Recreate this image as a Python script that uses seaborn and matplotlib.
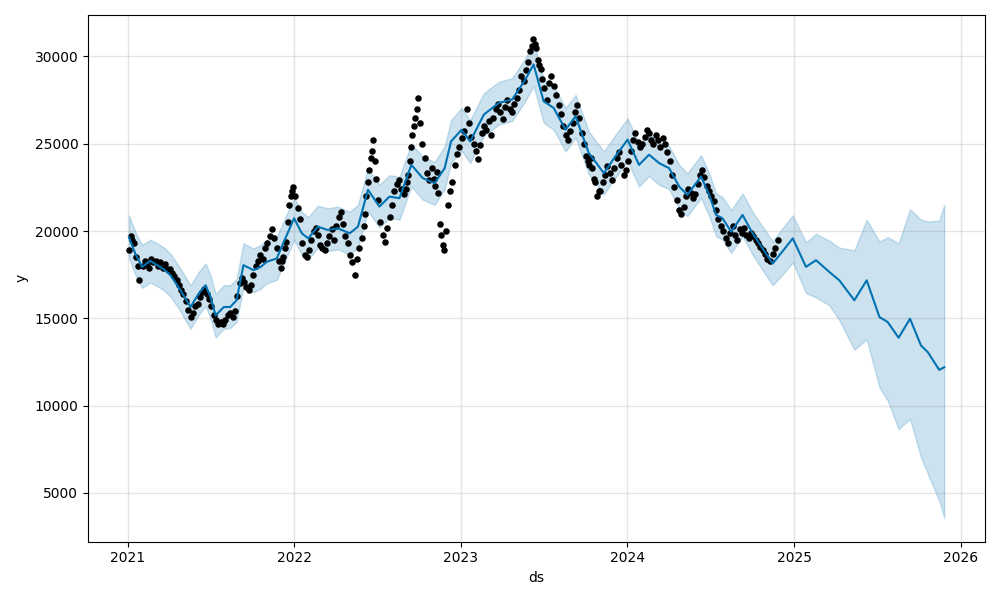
import numpy as np
import pandas as pd
import matplotlib
matplotlib.use("Agg")
import matplotlib.pyplot as plt
import seaborn as sns

# ---------------- observed data (readings per month) ----------------
obs_2021 = [
    [18900, 19700, 19500, 19300, 18500, 18000, 17200],
    [18000, 18300, 18100, 17900, 18400, 18200],
    [18300, 18000, 18200, 17900, 18100, 17800],
    [17800, 17600, 17400, 17200, 16900, 16600],
    [16400, 16000, 15500, 15100, 15300, 15700],
    [15800, 16200, 16500, 16700, 16400, 16100],
    [15700, 15200, 14900, 14700, 14800, 14700],
    [14900, 15200, 15300, 15100, 15400, 16300],
    [17000, 17300, 17100, 16800, 16600, 16900],
    [17500, 18000, 18300, 18600, 18400, 19000],
    [19300, 19700, 20100, 19600, 19000, 18300],
    [17900, 18300, 18500, 19000, 19400, 20500, 21500, 22000, 22300, 22500],
]
obs_2022 = [
    [22000, 21300, 20700, 19300, 18600, 18500],
    [18900, 19500, 20000, 20200, 19800, 19200],
    [19000, 18900, 19300, 19700, 20100, 19500],
    [20300, 20800, 21100, 20400, 19700, 19300],
    [18600, 18200, 17500, 18400, 19000, 19600],
    [20300, 21000, 22000, 22800, 23500, 24200, 24600, 25200, 24000, 23000],
    [21800, 20500, 19800, 19400, 20200, 20800],
    [21500, 22300, 22700, 22900, 22400, 22100],
    [22400, 22800, 23200, 24000, 24800, 25500, 26000, 26500, 27000, 27600],
    [26200, 25000, 24200, 23300, 22900, 23600],
    [23000, 22600, 23400, 22200, 20400, 19800, 19200, 18900, 20000],
    [21500, 22300, 22800, 23800, 24400, 24800],
]
obs_2023 = [
    [25300, 25700, 27000, 26200, 25400, 25000],
    [24600, 24100, 24900, 25600, 26000, 25800],
    [26300, 25500, 26500, 27000, 27300, 26800],
    [26400, 27100, 27500, 27000, 26800, 27300],
    [27600, 28100, 28900, 28600, 29200, 29700],
    [30300, 30600, 31000, 30700, 30500, 29800, 29500, 29300, 28700],
    [28200, 27500, 28500, 28900, 28300, 27800],
    [27200, 26700, 26000, 25500, 25200, 25700],
    [26200, 26800, 27200, 26500, 25600, 25000],
    [24300, 24000, 23800, 24200, 23600, 23000, 22800, 22000, 22300],
    [22300, 22800, 23200, 23700, 23300, 22900],
    [23600, 24200, 24500, 23800, 23200, 23500],
]
obs_2024 = [
    [24000, 24600, 25200, 25600, 25100, 24800],
    [25000, 25400, 25800, 25600, 25200, 25000],
    [25500, 25200, 24800, 25300, 25000, 24500],
    [24000, 23200, 22500, 21800, 21200, 21000],
    [21400, 22000, 22400, 22200, 21900, 22100],
    [22700, 23200, 23500, 23100, 22600, 22300],
    [22000, 21700, 21200, 20700, 20300, 20000],
    [19600, 19300, 19900, 20300, 19800, 19500],
    [20100, 19900, 20200, 19800, 19600, 19900],
    [19700, 19500, 19300, 19100, 18900, 18700],
    [18400, 18300, 18700, 19000, 19500],
]
obs_years = [2021, 2022, 2023, 2024]

# ---------------- forecast (yhat with uncertainty interval) ----------------
fc_dates = [
    "2021-01-04", "2021-01-18", "2021-02-02", "2021-02-20", "2021-03-07", "2021-03-22",
    "2021-04-05", "2021-04-27", "2021-05-19", "2021-06-06", "2021-06-21", "2021-07-02",
    "2021-07-13", "2021-07-31", "2021-08-14", "2021-08-28", "2021-09-12", "2021-10-04",
    "2021-10-20", "2021-11-02", "2021-11-24", "2021-12-08", "2022-01-01", "2022-01-18",
    "2022-02-01", "2022-02-22", "2022-03-16", "2022-04-07", "2022-05-03", "2022-05-21",
    "2022-06-12", "2022-07-07", "2022-07-29", "2022-08-20", "2022-09-15", "2022-10-10",
    "2022-11-05", "2022-11-27", "2022-12-11", "2023-01-03", "2023-01-22", "2023-02-21",
    "2023-03-26", "2023-04-24", "2023-05-23", "2023-06-10", "2023-07-02", "2023-07-24",
    "2023-08-19", "2023-09-10", "2023-10-09", "2023-11-11", "2023-12-06", "2024-01-02",
    "2024-01-27", "2024-02-18", "2024-03-11", "2024-04-02", "2024-04-24", "2024-05-12",
    "2024-06-11", "2024-06-29", "2024-07-14", "2024-07-28", "2024-08-16", "2024-09-10",
    "2024-10-02", "2024-10-24", "2024-11-15", "2024-12-03", "2024-12-29", "2025-01-27",
    "2025-02-18", "2025-03-19", "2025-04-10", "2025-05-13", "2025-06-09", "2025-07-07",
    "2025-07-25", "2025-08-18", "2025-09-12", "2025-10-06", "2025-10-21", "2025-11-15",
    "2025-11-26",
]
fc_yhat = [
    19650, 18700, 17950, 18290, 18050, 17800, 17470, 16610, 15650, 16420, 16900, 16225,
    15170, 15650, 15650, 16035, 18046, 17760, 17950, 18236, 18430, 19290, 20730, 19870,
    19580, 20250, 20060, 20155, 19870, 20250, 22360, 21400, 21970, 21880, 23790, 23030,
    22740, 23600, 25130, 25800, 25130, 26670, 27340, 27530, 28680, 29540, 27430, 27050,
    25800, 26570, 24465, 23315, 24270, 25230, 23790, 24370, 23890, 23600, 22550, 22070,
    23120, 22070, 20920, 20730, 19960, 20920, 19870, 19000, 18140, 18720, 19580, 17950,
    18330, 17660, 17180, 16035, 17180, 15075, 14790, 13890, 14980, 13450, 13065, 12050,
    12200,
]
fc_lower = [
    18450, 17500, 16750, 17050, 16850, 16600, 16250, 15400, 14400, 15200, 15700, 15000,
    13900, 14400, 14450, 14800, 16800, 16500, 16700, 17000, 17200, 18050, 19500, 18650,
    18350, 19050, 18850, 18950, 18650, 19050, 21150, 20200, 20750, 20650, 22550, 21800,
    21500, 22400, 23900, 24600, 23900, 25450, 26100, 26300, 27450, 28300, 26200, 25800,
    24550, 25350, 23250, 22100, 23050, 24000, 22550, 23150, 22650, 22400, 21300, 20850,
    21900, 20850, 19700, 19500, 18750, 19700, 18650, 17750, 16900, 17400, 18200, 16450,
    16200, 15750, 14900, 13200, 13800, 11050, 10300, 8650, 9250, 7050, 6100, 4550,
    3580,
]
fc_upper = [
    20900, 19950, 19200, 19500, 19300, 19050, 18700, 17850, 16900, 17650, 18150, 17450,
    16400, 16900, 16900, 17250, 19300, 19000, 19200, 19500, 19650, 20500, 21900, 21100,
    20800, 21450, 21300, 21400, 21100, 21500, 23600, 22650, 23200, 23100, 25000, 24250,
    23950, 24850, 26350, 27050, 26350, 27900, 28550, 28750, 29900, 30800, 28650, 28300,
    27050, 27800, 25700, 24550, 25500, 26450, 25000, 25600, 25100, 24850, 23800, 23300,
    24350, 23300, 22150, 21950, 21200, 22150, 21100, 20250, 19400, 20050, 20900, 19350,
    19850, 19450, 19050, 18900, 20650, 19400, 19650, 19300, 21250, 20650, 20550, 20600,
    21500,
]

# ---------------- build frames ----------------
obs_rows = []
for year, months in zip(obs_years, [obs_2021, obs_2022, obs_2023, obs_2024]):
    for m, vals in enumerate(months, start=1):
        start = pd.Timestamp(year=year, month=m, day=1)
        ndays = start.days_in_month
        n = len(vals)
        for i, v in enumerate(vals):
            d = start + pd.Timedelta(days=(i + 0.5) * ndays / n)
            if year == 2021 and m == 1:
                d = start + pd.Timedelta(days=3 + i * 27 / n)
            if year == 2024 and m == 11:
                d = start + pd.Timedelta(days=2 + i * 24 / (n - 1))
            obs_rows.append((d, v))
obs = pd.DataFrame(obs_rows, columns=["ds", "y"])

fc = pd.DataFrame({
    "ds": pd.to_datetime(fc_dates),
    "yhat": fc_yhat,
    "yhat_lower": fc_lower,
    "yhat_upper": fc_upper,
})

# ---------------- plot ----------------
fig, ax = plt.subplots(figsize=(10, 6), dpi=100)

sns.scatterplot(data=obs, x="ds", y="y", ax=ax, color="black", s=22,
                linewidth=0, zorder=3)
sns.lineplot(data=fc, x="ds", y="yhat", ax=ax, color="#0072B2", linewidth=1.5,
             zorder=4)
ax.fill_between(fc["ds"], fc["yhat_lower"], fc["yhat_upper"],
                color="#0072B2", alpha=0.2, linewidth=1)

ax.grid(True, which="major", color="gray", linestyle="-", linewidth=1, alpha=0.2)
ax.set_xlabel("ds")
ax.set_ylabel("y")
fig.tight_layout()
fig.savefig("out.png", dpi=100)
